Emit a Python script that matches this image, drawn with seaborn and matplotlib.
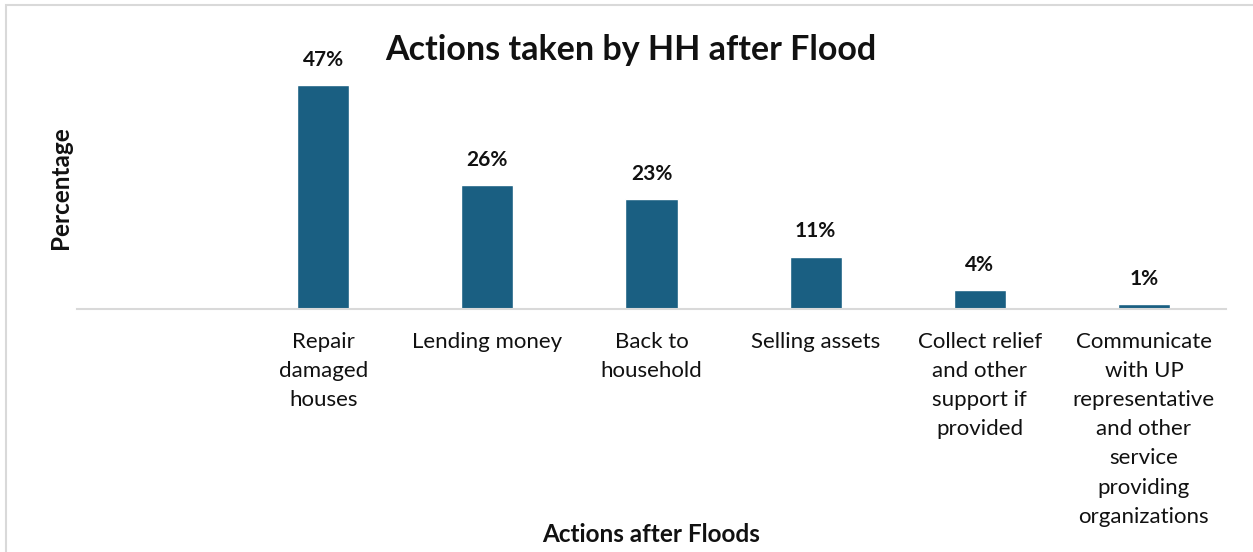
import matplotlib
matplotlib.use("Agg")
import matplotlib.pyplot as plt
from matplotlib.patches import Rectangle
import seaborn as sns
import pandas as pd

# Survey results: share of households taking each action after the flood
actions = [
    "Repair\ndamaged\nhouses",
    "Lending money",
    "Back to\nhousehold",
    "Selling assets",
    "Collect relief\nand other\nsupport if\nprovided",
    "Communicate\nwith UP\nrepresentative\nand other\nservice\nproviding\norganizations",
]
percent = [47, 26, 23, 11, 4, 1]

title = "Actions taken by HH after Flood"
x_title = "Actions after Floods"
y_title = "Percentage"
bar_color = "#1a5f82"

sns.set_theme(style="white")
plt.rcParams["font.family"] = ["Lato", "DejaVu Sans"]

df = pd.DataFrame({"action": actions, "percent": percent})

W, H = 1253, 552
fig = plt.figure(figsize=(W / 100, H / 100), dpi=100)
ax = fig.add_axes([77 / W, 1 - 309 / H, (1226 - 77) / W, (309 - 23) / H])

sns.barplot(data=df, x="action", y="percent", color=bar_color,
            width=0.317, saturation=1, ax=ax)

# leave an empty slot on the left, as in the original category layout
ax.set_xlim(-1.5, len(actions) - 0.5)
ax.set_ylim(0, 60)

for i, v in enumerate(percent):
    ax.annotate(f"{v}%", (i, v), xytext=(0, 11), textcoords="offset points",
                ha="center", va="bottom", fontsize=15, fontweight="bold",
                color="#111111")

ax.set_yticks([])
ax.set_xticks(range(len(actions)), labels=actions, linespacing=1.57,
              verticalalignment="top")
ax.tick_params(axis="x", length=0, pad=16.5, labelsize=16, labelcolor="#111111")

for side in ("left", "right", "top"):
    ax.spines[side].set_visible(False)
ax.spines["bottom"].set_color("#d9d9d9")
ax.spines["bottom"].set_linewidth(1.5)

ax.set_xlabel("")
ax.set_ylabel("")
fig.text(651 / W, 1 - 535 / H, x_title, ha="center", va="center",
         fontsize=17.5, fontweight="bold", color="#111111")
fig.text(60 / W, 1 - 188 / H, y_title, ha="center", va="center",
         rotation=90, fontsize=17.5, fontweight="bold", color="#111111")
fig.text(631 / W, 1 - 50 / H, title, ha="center", va="center",
         fontsize=24.5, fontweight="bold", color="#111111")

# chart-area frame (top and left edges visible)
fig.patches.append(Rectangle((6 / W, -0.1), 1.1, 1 - 5 / H + 0.1,
                             transform=fig.transFigure, fill=False,
                             edgecolor="#d9d9d9", linewidth=1.5,
                             clip_on=False))

fig.savefig("out.png", dpi=100)
